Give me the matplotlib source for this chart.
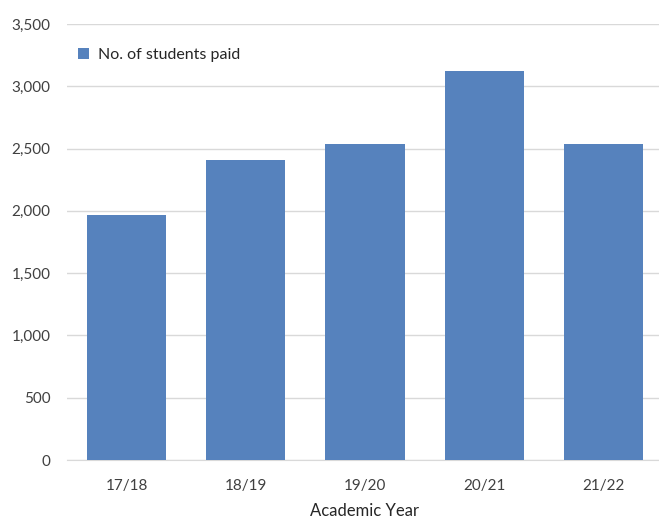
import matplotlib
matplotlib.use("Agg")
import matplotlib.pyplot as plt
from matplotlib.ticker import FuncFormatter, MultipleLocator

years = ["17/18", "18/19", "19/20", "20/21", "21/22"]
students_paid = [1965, 2412, 2539, 3123, 2539]

plt.rcParams["font.family"] = ["Lato", "DejaVu Sans"]

fig = plt.figure(figsize=(6.59, 5.19), dpi=100)
ax = fig.add_axes([67 / 659, (519 - 460) / 519, 596 / 659, 436 / 519])

x = range(len(years))
ax.bar(x, students_paid, width=0.665, color="#5682bd", zorder=3,
       label="No. of students paid")

ax.set_xlim(-0.5, len(years) - 0.5)
ax.set_ylim(0, 3500)
ax.yaxis.set_major_locator(MultipleLocator(500))
ax.yaxis.set_major_formatter(FuncFormatter(lambda v, _: f"{int(v):,}"))
ax.set_xticks(list(x))
ax.set_xticklabels(years)

ax.grid(axis="y", color="#d9d9d9", linewidth=1, zorder=0)
for side in ["top", "right", "left"]:
    ax.spines[side].set_visible(False)
ax.spines["bottom"].set_color("#d9d9d9")
ax.tick_params(axis="both", length=0, labelsize=11, colors="#404040")
ax.tick_params(axis="x", pad=14)
ax.tick_params(axis="y", pad=12)

ax.set_xlabel("Academic Year", fontsize=12, color="#262626", labelpad=7)

leg = ax.legend(loc="upper left", bbox_to_anchor=(0.0, 0.97), frameon=False,
                fontsize=11.5, handlelength=0.65, handleheight=0.65,
                handletextpad=0.6, borderaxespad=0.3)
for t in leg.get_texts():
    t.set_color("#262626")

fig.savefig("out.png", dpi=100)
